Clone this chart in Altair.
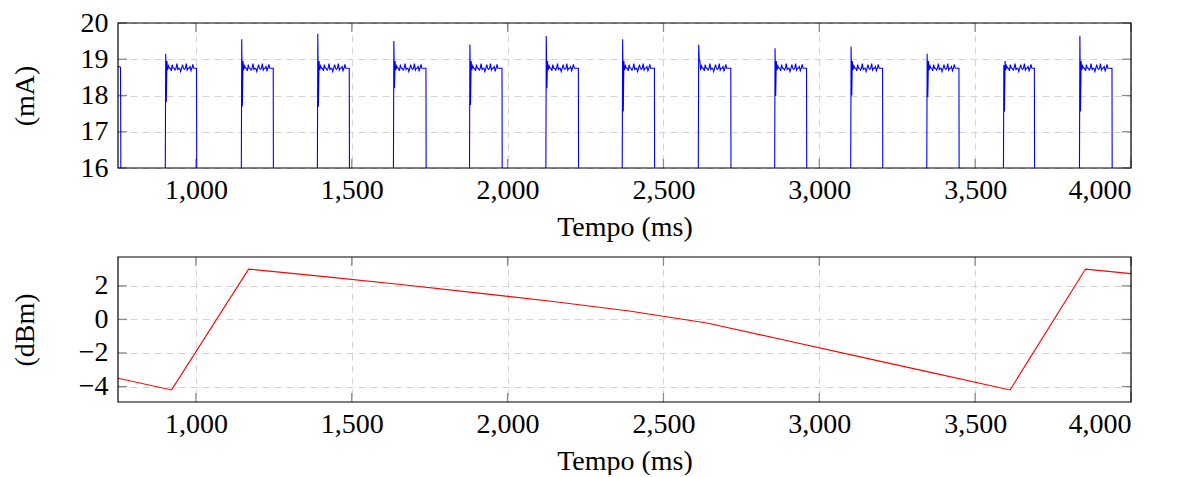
import altair as alt
import pandas as pd

# ---------------- data ----------------
# top panel: current pulses (mA)
rise_ms = [901, 1145, 1389, 1633, 1877, 2122, 2367, 2611, 2856, 3100, 3344, 3590, 3834]
fall_ms = [1003, 1249, 1493, 1739, 1983, 2228, 2472, 2717, 2960, 3204, 3449, 3691, 3940]
peak_mA = [19.15, 19.55, 19.70, 19.50, 19.41, 19.64, 19.55, 19.40, 19.30, 19.35, 19.15, 18.84, 19.65]
dip_mA = [17.82, 17.70, 17.70, 18.20, 17.74, 18.20, 17.56, 18.95, 17.99, 18.00, 17.95, 17.56, 17.56]
# samples inside a pulse after the spike (ms after rise, mA)
plateau_dt = [6, 8, 11, 14, 17, 20, 23, 26, 29, 32, 35, 38, 41, 44, 47, 50, 53, 56, 59, 62,
              65, 68, 71, 74, 77, 80, 83, 86, 89, 92, 95, 98]
plateau_mA = [18.95, 18.70, 18.82, 18.75, 18.75, 18.68, 18.85, 18.75, 18.75, 18.70, 18.75, 18.88,
              18.72, 18.75, 18.75, 18.66, 18.75, 18.85, 18.75, 18.72, 18.75, 18.88, 18.70, 18.75,
              18.75, 18.80, 18.68, 18.75, 18.86, 18.75, 18.75, 18.75]
low_mA = 14.0
first_t = [740, 752, 758, 760]
first_mA = [18.78, 18.80, 18.78, low_mA]

# bottom panel: power (dBm)
pwr_ms = [750, 922, 1169, 1413, 1657, 1901, 2146, 2390, 2639, 2880, 3124, 3368, 3612, 3854, 4000]
pwr_dBm = [-3.5, -4.2, 3.0, 2.55, 2.08, 1.58, 1.07, 0.5, -0.21, -1.2, -2.2, -3.2, -4.2, 3.0, 2.73]

x_ticks = [1000, 1500, 2000, 2500, 3000, 3500, 4000]
y_ticks_top = [16, 17, 18, 19, 20]
y_ticks_bot = [-4, -2, 0, 2]

# ---------------- tables ----------------
t_list, v_list = list(first_t), list(first_mA)
for r, f, pk, dp in zip(rise_ms, fall_ms, peak_mA, dip_mA):
    t_list += [r, r + 2, r + 4]
    v_list += [low_mA, pk, dp]
    t_list += [r + d for d in plateau_dt]
    v_list += plateau_mA
    t_list += [f - 1, f]
    v_list += [18.75, low_mA]
cur = pd.DataFrame({"t": t_list, "v": v_list})
pwr = pd.DataFrame({"t": pwr_ms, "v": pwr_dBm})
xt = pd.DataFrame({"t": x_ticks})
yt_top = pd.DataFrame({"v": y_ticks_top})
yt_bot = pd.DataFrame({"v": y_ticks_bot})
frame_df = pd.DataFrame({"k": [0]})

W, H = 1013, 145
FONT = "Liberation Serif"
TICK_LEN = 9
TICK_COLOR = "#8a8a8a"

xscale = alt.Scale(domain=[750, 4000], nice=False, zero=False)


def x_axis():
    return alt.Axis(values=x_ticks, format=",.0f", title="Tempo (ms)", labelPadding=8,
                    titlePadding=9, grid=True)


def y_axis(yvals, ytitle):
    return alt.Axis(values=yvals, format=".0f", title=ytitle, labelPadding=10,
                    minExtent=60, maxExtent=60, titlePadding=19, grid=True)


def panel(data, color, yscale, yvals, ytitle, ytick_df):
    xenc = alt.X("t:Q", scale=xscale, axis=x_axis(), title="Tempo (ms)")
    yenc = alt.Y("v:Q", scale=yscale, axis=y_axis(yvals, ytitle), title=ytitle)
    line = alt.Chart(data).mark_line(color=color, strokeWidth=1.1, clip=True).encode(
        x=xenc, y=yenc)
    tb = alt.Chart(xt).mark_rule(color=TICK_COLOR, strokeWidth=1.3).encode(
        x=xenc, y=alt.value(H - TICK_LEN), y2=alt.value(H))
    tt = alt.Chart(xt).mark_rule(color=TICK_COLOR, strokeWidth=1.3).encode(
        x=xenc, y=alt.value(0), y2=alt.value(TICK_LEN))
    tl = alt.Chart(ytick_df).mark_rule(color=TICK_COLOR, strokeWidth=1.3).encode(
        y=yenc, x=alt.value(0), x2=alt.value(TICK_LEN))
    tr = alt.Chart(ytick_df).mark_rule(color=TICK_COLOR, strokeWidth=1.3).encode(
        y=yenc, x=alt.value(W - TICK_LEN), x2=alt.value(W))
    frame = alt.Chart(frame_df).mark_rect(filled=False, stroke="black", strokeWidth=1.2).encode(
        x=alt.value(0), x2=alt.value(W), y=alt.value(0), y2=alt.value(H))
    return alt.layer(tb, tt, tl, tr, line, frame).properties(width=W, height=H)


top = panel(cur, "#0000ff", alt.Scale(domain=[16, 20], nice=False, zero=False),
            y_ticks_top, "(mA)", yt_top)
bot = panel(pwr, "#ff0000", alt.Scale(domain=[-4.92, 3.72], nice=False, zero=False),
            y_ticks_bot, "(dBm)", yt_bot)

chart = alt.vconcat(top, bot, spacing=15).properties(
    padding={"left": 3, "top": 1, "right": 5, "bottom": 0},
    background="white",
).configure_view(
    stroke=None
).configure_axis(
    labelFont=FONT, titleFont=FONT, labelFontSize=28, titleFontSize=28,
    labelColor="black", titleColor="black", titleFontWeight="normal",
    domain=False, ticks=False, gridColor="#d4d4d4", gridDash=[7, 5], gridWidth=1,
)

chart.save("out.html", embed_options={"renderer": "svg", "actions": False})
